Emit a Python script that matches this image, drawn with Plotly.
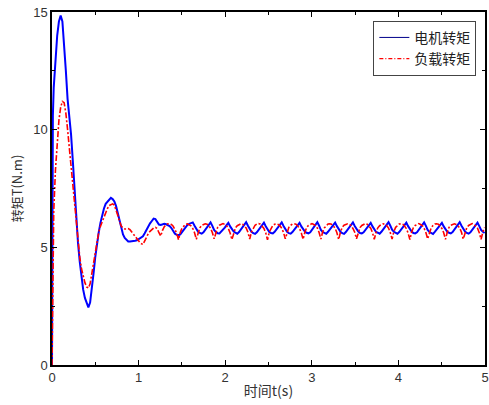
import numpy as np
import plotly.graph_objects as go

# ---- start-up transient (explicit sample times, s) ----
t_start = [0.0, 0.004, 0.01] + [round(0.02 * i, 2) for i in range(1, 52)]

motor_start = [
    0.0, 8.8, 10.6, 11.8, 13.1, 14.0, 14.6, 14.85, 14.6, 13.7,
    12.5, 11.3, 10.6, 9.8, 8.7, 7.4, 6.2, 5.2, 4.4, 3.7,
    3.2, 2.85, 2.6, 2.45, 2.65, 3.2, 3.9, 4.6, 5.2, 5.65,
    6.05, 6.4, 6.65, 6.85, 6.95, 7.05, 7.1, 7.05, 6.95, 6.75,
    6.45, 6.1, 5.8, 5.55, 5.4, 5.3, 5.25, 5.25, 5.25, 5.25,
    5.28, 5.3, 5.35, 5.42,
]

load_start = [
    0.0, 1.6, 4.2, 6.5, 8.3, 9.5, 10.4, 10.95, 11.2, 11.15,
    10.7, 10.0, 9.2, 8.4, 7.6, 6.7, 5.9, 5.2, 4.6, 4.1,
    3.75, 3.5, 3.32, 3.27, 3.45, 3.9, 4.4, 4.9, 5.3, 5.65,
    5.9, 6.1, 6.3, 6.5, 6.65, 6.78, 6.83, 6.85, 6.8, 6.6,
    6.35, 6.1, 5.9, 5.82, 5.78, 5.78, 5.8, 5.75, 5.65, 5.55,
    5.45, 5.35, 5.25, 5.18,
]

# ---- steady ripple, one row per load-torque cycle (10 samples per cycle) ----
ripple_period = 0.2055
ripple_samples = 193
t_ripple = np.linspace(1.05, 1.05 + ripple_period / 10 * (ripple_samples - 1), ripple_samples)

motor_ripple = [
    5.47, 5.60, 5.75, 5.90, 6.02, 6.12, 6.22, 6.20, 6.05, 5.97,
    5.95, 5.98, 6.00, 5.98, 5.94, 5.90, 5.82, 5.70, 5.58, 5.53,
    5.52, 5.55, 5.65, 5.76, 5.86, 5.95, 6.00, 6.03, 6.06, 5.92,
    5.76, 5.66, 5.61, 5.58, 5.64, 5.74, 5.85, 5.95, 6.06, 5.91,
    5.74, 5.65, 5.60, 5.59, 5.66, 5.76, 5.84, 5.94, 6.04, 5.89,
    5.75, 5.67, 5.62, 5.58, 5.65, 5.75, 5.86, 5.96, 6.07, 5.92,
    5.76, 5.66, 5.60, 5.57, 5.64, 5.74, 5.85, 5.95, 6.05, 5.90,
    5.74, 5.65, 5.61, 5.59, 5.66, 5.76, 5.85, 5.94, 6.06, 5.91,
    5.75, 5.66, 5.60, 5.58, 5.65, 5.75, 5.84, 5.95, 6.04, 5.89,
    5.76, 5.67, 5.62, 5.59, 5.64, 5.74, 5.86, 5.96, 6.07, 5.92,
    5.74, 5.65, 5.61, 5.58, 5.66, 5.76, 5.85, 5.94, 6.05, 5.90,
    5.75, 5.66, 5.60, 5.57, 5.65, 5.75, 5.84, 5.95, 6.06, 5.91,
    5.76, 5.67, 5.61, 5.59, 5.64, 5.74, 5.86, 5.96, 6.04, 5.89,
    5.74, 5.65, 5.62, 5.58, 5.66, 5.76, 5.85, 5.94, 6.07, 5.92,
    5.75, 5.66, 5.60, 5.58, 5.65, 5.75, 5.84, 5.95, 6.05, 5.90,
    5.76, 5.67, 5.61, 5.59, 5.64, 5.74, 5.86, 5.96, 6.06, 5.91,
    5.74, 5.65, 5.60, 5.57, 5.66, 5.76, 5.85, 5.94, 6.04, 5.89,
    5.75, 5.66, 5.62, 5.59, 5.65, 5.75, 5.84, 5.95, 6.07, 5.92,
    5.76, 5.67, 5.61, 5.58, 5.64, 5.74, 5.86, 5.96, 6.05, 5.90,
    5.74, 5.66, 5.61,
]

load_ripple = [
    5.12, 5.30, 5.45, 5.58, 5.68, 5.76, 5.82, 5.85, 5.80, 5.62,
    5.48, 5.72, 5.88, 5.96, 6.00, 6.00, 5.97, 5.90, 5.78, 5.60,
    5.32, 5.64, 5.82, 5.92, 5.98, 6.00, 5.97, 5.91, 5.80, 5.62,
    5.34, 5.65, 5.83, 5.93, 5.98, 6.00, 5.98, 5.92, 5.81, 5.63,
    5.36, 5.67, 5.85, 5.94, 5.99, 6.01, 5.97, 5.91, 5.80, 5.61,
    5.33, 5.64, 5.83, 5.92, 5.98, 6.00, 5.98, 5.92, 5.82, 5.64,
    5.35, 5.66, 5.84, 5.94, 5.99, 6.01, 5.98, 5.91, 5.80, 5.62,
    5.32, 5.65, 5.83, 5.93, 5.98, 6.00, 5.97, 5.92, 5.81, 5.63,
    5.36, 5.67, 5.85, 5.94, 5.99, 6.00, 5.98, 5.91, 5.80, 5.61,
    5.34, 5.64, 5.84, 5.93, 5.98, 6.01, 5.97, 5.92, 5.82, 5.63,
    5.35, 5.66, 5.83, 5.93, 5.99, 6.00, 5.98, 5.91, 5.81, 5.62,
    5.33, 5.65, 5.85, 5.94, 5.98, 6.00, 5.97, 5.92, 5.80, 5.64,
    5.36, 5.66, 5.84, 5.93, 5.99, 6.01, 5.98, 5.91, 5.81, 5.62,
    5.34, 5.64, 5.83, 5.92, 5.98, 6.00, 5.97, 5.92, 5.82, 5.63,
    5.35, 5.67, 5.85, 5.94, 5.99, 6.00, 5.98, 5.91, 5.80, 5.61,
    5.33, 5.65, 5.84, 5.93, 5.98, 6.01, 5.97, 5.92, 5.81, 5.63,
    5.36, 5.66, 5.83, 5.93, 5.99, 6.00, 5.98, 5.91, 5.80, 5.62,
    5.34, 5.64, 5.85, 5.94, 5.98, 6.00, 5.97, 5.92, 5.82, 5.64,
    5.35, 5.66, 5.84, 5.93, 5.99, 6.01, 5.98, 5.91, 5.81, 5.62,
    5.34, 5.65, 5.84,
]

series_names = ["电机转矩", "负载转矩"]
x_ticks = [0, 1, 2, 3, 4, 5]
y_ticks = [0, 5, 10, 15]

t_all = list(t_start) + list(t_ripple)
motor = motor_start + motor_ripple
load = load_start + load_ripple

MOTOR_COLOR = "#0000ff"
LOAD_COLOR = "#ff0000"
LOAD_DASH = "6px,2px,2px,2px"
NUM_FONT = "Arial, 'Liberation Sans', 'Noto Sans CJK SC', sans-serif"
CJK_FONT = "'Noto Sans CJK SC', 'Noto Sans', sans-serif"

fig = go.Figure()

fig.add_trace(go.Scatter(
    x=t_all, y=motor, mode="lines", showlegend=False,
    line=dict(color=MOTOR_COLOR, width=2),
))
fig.add_trace(go.Scatter(
    x=t_all, y=load, mode="lines", showlegend=False,
    line=dict(color=LOAD_COLOR, width=1.6, dash=LOAD_DASH),
))

# legend keys with thin lines
fig.add_trace(go.Scatter(
    x=[None], y=[None], mode="lines", name=series_names[0],
    line=dict(color="#00008b", width=1),
))
fig.add_trace(go.Scatter(
    x=[None], y=[None], mode="lines", name=series_names[1],
    line=dict(color=LOAD_COLOR, width=1.2, dash="4px,2px,1px,2px"),
))

axis_common = dict(
    showline=True, linecolor="black", linewidth=1.5, mirror="ticks",
    ticks="inside", ticklen=5, tickwidth=1.2, tickcolor="black",
    showgrid=False, zeroline=False, ticklabeloverflow="allow",
    tickfont=dict(family=NUM_FONT, size=13, color="#333333"),
)

fig.update_xaxes(
    range=[0, 5], tickvals=x_ticks,
    minor=dict(ticks="inside", ticklen=3, dtick=0.5, tickcolor="black", showgrid=False),
    title=dict(text="时间t(s)", font=dict(family=CJK_FONT, size=14, color="#333333"), standoff=2),
    **axis_common,
)
fig.update_yaxes(
    range=[0, 15], tickvals=y_ticks,
    minor=dict(ticks="inside", ticklen=3, dtick=2.5, tickcolor="black", showgrid=False),
    title=dict(text="转矩T(N.m)", font=dict(family=CJK_FONT, size=13, color="#333333"), standoff=8),
    **axis_common,
)

fig.update_layout(
    width=489, height=405,
    margin=dict(l=52, r=4, t=12, b=40, autoexpand=False),
    paper_bgcolor="white", plot_bgcolor="white",
    legend=dict(
        x=0.98, y=0.975, xanchor="right", yanchor="top",
        bgcolor="white", bordercolor="#444444", borderwidth=1,
        font=dict(family=CJK_FONT, size=14, color="#222222"),
        tracegroupgap=0, itemwidth=30,
    ),
)

fig.write_html("out.html")
